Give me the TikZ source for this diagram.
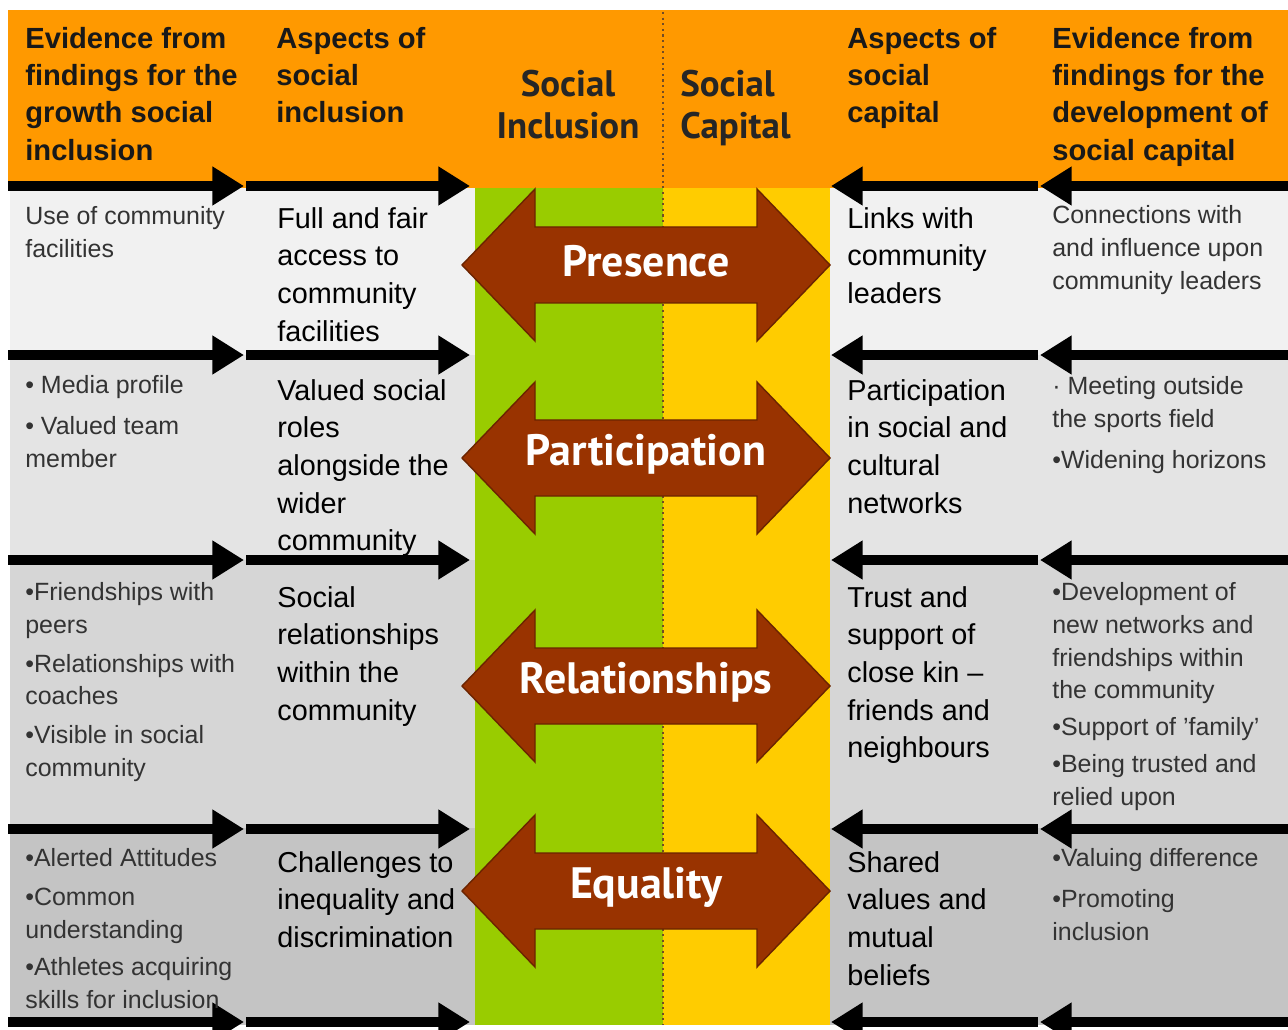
\documentclass[tikz,border=0pt]{standalone}
\usepackage{fontspec}
\setmainfont{Liberation Sans}
\newfontfamily\ptsans{PT Sans}
\usepackage{xcolor}
\usetikzlibrary{arrows.meta}

\definecolor{headorange}{RGB}{255,153,0}
\definecolor{colgreen}{RGB}{153,204,0}
\definecolor{colyellow}{RGB}{255,204,0}
\definecolor{arrowbrown}{RGB}{153,51,0}
\definecolor{rowa}{RGB}{241,241,241}
\definecolor{rowb}{RGB}{228,228,228}
\definecolor{rowc}{RGB}{214,214,214}
\definecolor{rowd}{RGB}{196,196,196}

\tikzstyle{header} = [anchor=north west, align=left, inner sep=0pt, font=\bfseries\fontsize{16.6}{21.2}\selectfont, text=black!90]
\tikzstyle{centrehead} = [anchor=north, align=center, inner sep=0pt, font=\ptsans\bfseries\fontsize{21}{24}\selectfont, text=black!85]
\tikzstyle{evidence} = [anchor=north west, align=left, inner sep=0pt, font=\fontsize{14.2}{18.7}\selectfont, text=black!80]
\tikzstyle{aspect} = [anchor=north west, align=left, inner sep=0pt, font=\fontsize{16.4}{21.4}\selectfont]
\tikzstyle{linkarrow} = [line width=5.7pt, -{Triangle[length=18pt,width=21pt]}]
\tikzstyle{bigarrow} = [fill=arrowbrown, draw=arrowbrown!70!black, line width=0.8pt]
\tikzstyle{arrowlabel} = [text=white, inner sep=0pt, font=\ptsans\bfseries\fontsize{25}{28}\selectfont]

\begin{document}
\begin{tikzpicture}[x=0.02cm, y=-0.02cm]
	\useasboundingbox (0,0) rectangle (1288,1030);

	% backgrounds
	\fill[headorange] (8,10) rectangle (1288,188);
	\fill[colgreen] (475,188) rectangle (663,1025);
	\fill[colyellow] (663,188) rectangle (830,1025);
	\foreach \ya/\yb/\col in {188/355/rowa, 355/560/rowb, 560/828/rowc, 828/1025/rowd}{
		\fill[\col] (10,\ya) rectangle (475,\yb);
		\fill[\col] (830,\ya) rectangle (1288,\yb);
	}
	\draw[dotted, line width=1.2pt, brown!60!black] (663,12) -- (663,1025);

	% column headings
	\node (hevl) [header] at (25,27) {Evidence from\\findings for the\\growth social\\inclusion};
	\node (hasl) [header] at (276,27) {Aspects of\\social\\inclusion};
	\node (hinc) [centrehead] at (568,70) {Social\\Inclusion};
	\node (hcap) [centrehead, anchor=north west, align=left] at (680,70) {Social\\Capital};
	\node (hasr) [header] at (847,27) {Aspects of\\social\\capital};
	\node (hevr) [header] at (1052,27) {Evidence from\\findings for the\\development of\\social capital};

	% black arrows between the columns
	\foreach \y in {186,355,560,829,1022}{
		\draw[linkarrow] (8,\y) -- (244,\y);
		\draw[linkarrow] (246,\y) -- (470,\y);
		\draw[linkarrow] (1288,\y) -- (1040,\y);
		\draw[linkarrow] (1038,\y) -- (831,\y);
	}

	% big double arrows
	\foreach \yc/\lbl/\nm in {265/Presence/pres, 458/Participation/part, 686/Relationships/rel, 891/Equality/equ}{
		\draw[bigarrow] (462,\yc) -- (535,{\yc-76}) -- (535,{\yc-38}) -- (757,{\yc-38}) -- (757,{\yc-76})
			-- (830,\yc) -- (757,{\yc+76}) -- (757,{\yc+38}) -- (535,{\yc+38}) -- (535,{\yc+76}) -- cycle;
		\node (\nm) [arrowlabel] at (646,{\yc-4}) {\lbl};
	}

	% row 1
	\node (evl1) [evidence] at (25,206) {Use of community\\facilities};
	\node (asl1) [aspect] at (277,207) {Full and fair\\access to\\community\\facilities};
	\node (asr1) [aspect] at (847,207) {Links with\\community\\leaders};
	\node (evr1) [evidence] at (1052,205) {Connections with\\and influence upon\\community leaders};

	% row 2
	\node (evl2) [evidence] at (25,375) {• Media profile\\[4.5pt]• Valued team\\member};
	\node (asl2) [aspect] at (277,379) {Valued social\\roles\\alongside the\\wider\\community};
	\node (asr2) [aspect] at (847,379) {Participation\\in social and\\cultural\\networks};
	\node (evr2) [evidence] at (1052,376) {· Meeting outside\\the sports field\\[4.5pt]•Widening horizons};

	% row 3
	\node (evl3) [evidence] at (25,582) {•Friendships with\\peers\\[3.4pt]•Relationships with\\coaches\\[3.4pt]•Visible in social\\community};
	\node (asl3) [aspect] at (277,586) {Social\\relationships\\within the\\community};
	\node (asr3) [aspect] at (847,586) {Trust and\\support of\\close kin --\\friends and\\neighbours};
	\node (evr3) [evidence] at (1052,582) {•Development of\\new networks and\\friendships within\\the community\\[1.8pt]•Support of 'family'\\[2.8pt]•Being trusted and\\relied upon};

	% row 4
	\node (evl4) [evidence] at (25,848) {•Alerted Attitudes\\[3.4pt]•Common\\understanding\\[2.5pt]•Athletes acquiring\\skills for inclusion};
	\node (asl4) [aspect] at (277,851) {Challenges to\\inequality and\\discrimination};
	\node (asr4) [aspect] at (847,851) {Shared\\values and\\mutual\\beliefs};
	\node (evr4) [evidence] at (1052,848) {•Valuing difference\\[4.5pt]•Promoting\\inclusion};

\end{tikzpicture}
\end{document}
